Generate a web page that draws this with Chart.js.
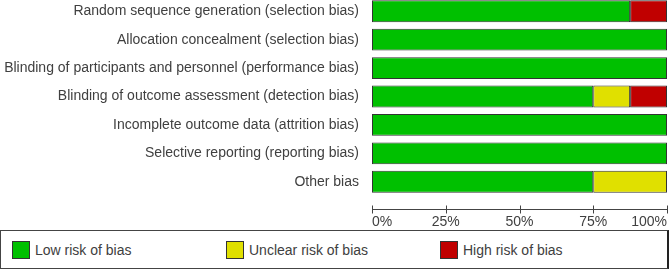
<!DOCTYPE html>
<html>
<head>
<meta charset="utf-8">
<script src="https://cdn.jsdelivr.net/npm/chart.js@4/dist/chart.umd.min.js"></script>
<style>
  body { margin: 0; background: #fff; width: 669px; height: 270px; position: relative; overflow: hidden; font-family: "Liberation Sans", Arial, sans-serif; }
  #wrap { position: absolute; left: 0; top: -4px; width: 669px; height: 232px; }
  #legend { position: absolute; left: 0; top: 230px; width: 666px; height: 37px; border: 1px solid #444; border-right: 2px solid #222; box-sizing: content-box; }
  .item { position: absolute; top: 10px; height: 18px; font-size: 14px; color: #404040; line-height: 18px; }
  .sw { position: absolute; left: 0; top: 0; width: 16px; height: 16px; border: 1px solid #333; }
  .lbl { position: absolute; left: 23px; top: 0; white-space: nowrap; }
</style>
</head>
<body>
<div id="wrap"><canvas id="chart" width="669" height="232"></canvas></div>
<div id="legend"></div>
<script>
const domains = [
    'Random sequence generation (selection bias)',
    'Allocation concealment (selection bias)',
    'Blinding of participants and personnel (performance bias)',
    'Blinding of outcome assessment (detection bias)',
    'Incomplete outcome data (attrition bias)',
    'Selective reporting (reporting bias)',
    'Other bias'
];
const seriesNames = ['Low risk of bias', 'Unclear risk of bias', 'High risk of bias'];
const lowRisk = [87.5, 100, 100, 75, 100, 100, 75];
const unclearRisk = [0, 0, 0, 12.5, 0, 0, 25];
const highRisk = [12.5, 0, 0, 12.5, 0, 0, 0];
const xTicks = [0, 25, 50, 75, 100];
const colors = ['#00c000', '#e0e000', '#c00000'];

// axis line with ticks crossing it, drawn a bit below the bars
const axisPlugin = {
    id: 'axisLine',
    afterDraw(chart) {
        const ctx = chart.ctx;
        const x = chart.scales.x;
        const y = Math.round(chart.chartArea.bottom + 13) + 0.5;
        ctx.save();
        ctx.strokeStyle = '#444';
        ctx.lineWidth = 1;
        ctx.beginPath();
        ctx.moveTo(x.getPixelForValue(0), y);
        ctx.lineTo(x.getPixelForValue(100), y);
        xTicks.forEach(v => {
            const px = Math.round(x.getPixelForValue(v)) + 0.5;
            ctx.moveTo(px, y - 4);
            ctx.lineTo(px, y + 4);
        });
        ctx.stroke();
        ctx.restore();
    }
};

const noPad = s => {
    s.paddingTop = 0;
    s.paddingBottom = 0;
    s.paddingLeft = 0;
    s.paddingRight = 0;
};

const data = [lowRisk, unclearRisk, highRisk];
const chart = new Chart(document.getElementById('chart').getContext('2d'), {
    type: 'bar',
    data: {
        labels: domains,
        datasets: seriesNames.map((name, i) => ({
            label: name,
            data: data[i],
            backgroundColor: colors[i],
            borderColor: '#333',
            borderWidth: 1,
            borderSkipped: false,
            categoryPercentage: 1,
            barPercentage: 0.77
        }))
    },
    options: {
        indexAxis: 'y',
        responsive: false,
        animation: false,
        layout: { padding: { top: 1, right: 2, left: 0, bottom: 0 } },
        scales: {
            x: {
                stacked: true,
                min: 0,
                max: 100,
                afterBuildTicks: s => { s.ticks = xTicks.map(v => ({ value: v })); },
                afterFit: s => { s.height = 32; noPad(s); },
                grid: { display: false, drawTicks: false },
                border: { display: false },
                ticks: {
                    align: 'inner',
                    maxRotation: 0,
                    padding: 18,
                    color: '#404040',
                    font: { family: '"Liberation Sans", Arial', size: 14 },
                    callback: v => v + '%'
                }
            },
            y: {
                stacked: true,
                afterFit: s => { s.width = 372; noPad(s); },
                grid: { display: false, drawTicks: false },
                border: { display: false },
                ticks: {
                    padding: 13,
                    color: '#404040',
                    font: { family: '"Liberation Sans", Arial', size: 14 }
                }
            }
        },
        plugins: {
            legend: { display: false },
            tooltip: { enabled: false }
        }
    },
    plugins: [axisPlugin]
});

const legendEl = document.getElementById('legend');
const legendX = [11, 225, 439];
seriesNames.forEach((name, i) => {
    const item = document.createElement('div');
    item.className = 'item';
    item.style.left = legendX[i] + 'px';
    item.innerHTML = '<div class="sw" style="background:' + colors[i] + '"></div><div class="lbl">' + name + '</div>';
    legendEl.appendChild(item);
});
</script>
</body>
</html>
